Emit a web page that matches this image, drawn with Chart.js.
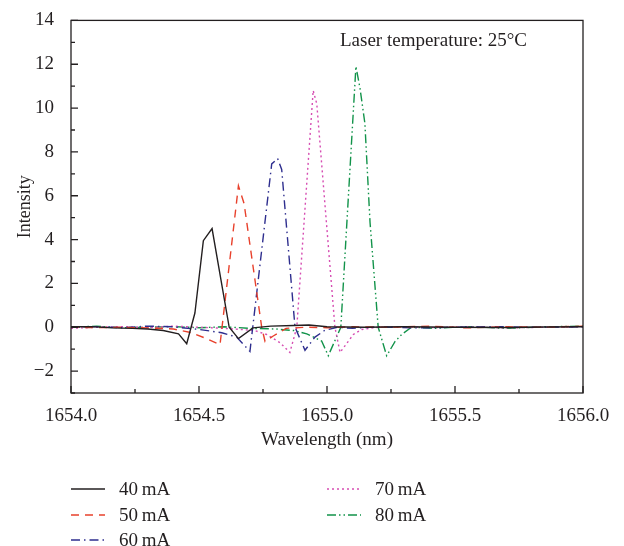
<!DOCTYPE html>
<html>
<head>
<meta charset="utf-8">
<script src="https://cdn.jsdelivr.net/npm/chart.js@4"></script>
<style>
  html, body { margin: 0; padding: 0; background: #fff; }
  #chart { display: block; }
</style>
</head>
<body>
<canvas id="chart" width="624" height="546"></canvas>
<script>
// series: wavelength (nm) and intensity for each drive current
const labels = ['40\u2009mA', '50\u2009mA', '60\u2009mA', '70\u2009mA', '80\u2009mA'];

const wl40 = [1654.00, 1654.08, 1654.16, 1654.24, 1654.30, 1654.36, 1654.42, 1654.452, 1654.484, 1654.517, 1654.551, 1654.618, 1654.654, 1654.711, 1654.78, 1654.87, 1654.93, 1655.00, 1655.15, 1655.30, 1655.50, 1655.70, 1655.85, 1656.00];
const i40 = [0.02, 0.03, -0.03, -0.05, -0.08, -0.15, -0.3, -0.75, 0.65, 3.95, 4.5, 0.0, -0.52, -0.03, 0.05, 0.08, 0.1, 0.02, 0.0, 0.02, 0.0, -0.01, 0.01, 0.02];

const wl50 = [1654.00, 1654.10, 1654.20, 1654.30, 1654.40, 1654.471, 1654.536, 1654.582, 1654.654, 1654.676, 1654.745, 1654.758, 1654.79, 1654.84, 1654.92, 1655.00, 1655.10, 1655.25, 1655.40, 1655.55, 1655.70, 1655.85, 1656.00];
const i50 = [0.0, -0.02, 0.0, -0.03, -0.08, -0.25, -0.55, -0.8, 6.45, 5.65, 0.0, -0.65, -0.4, -0.05, 0.0, -0.02, 0.02, 0.0, 0.05, -0.03, 0.02, 0.0, 0.05];

const wl60 = [1654.00, 1654.10, 1654.20, 1654.30, 1654.40, 1654.50, 1654.589, 1654.647, 1654.699, 1654.784, 1654.807, 1654.823, 1654.875, 1654.914, 1654.953, 1654.99, 1655.04, 1655.10, 1655.20, 1655.35, 1655.50, 1655.65, 1655.80, 1656.00];
const i60 = [0.0, 0.03, -0.02, 0.05, 0.02, -0.1, -0.25, -0.45, -1.1, 7.45, 7.7, 7.2, 0.0, -1.05, -0.45, -0.15, 0.0, -0.05, 0.02, -0.03, 0.0, 0.03, 0.0, 0.02];

const wl70 = [1654.00, 1654.10, 1654.20, 1654.30, 1654.40, 1654.50, 1654.60, 1654.717, 1654.764, 1654.816, 1654.855, 1654.882, 1654.946, 1654.96, 1655.031, 1655.051, 1655.103, 1655.136, 1655.20, 1655.30, 1655.40, 1655.55, 1655.70, 1655.85, 1656.00];
const i70 = [-0.05, 0.0, 0.03, -0.02, 0.05, 0.0, -0.05, -0.15, -0.33, -0.7, -1.15, 0.0, 10.8, 10.2, 0.0, -1.15, -0.33, -0.1, 0.0, 0.03, -0.02, 0.02, -0.03, 0.0, 0.02];

const wl80 = [1654.00, 1654.10, 1654.20, 1654.30, 1654.40, 1654.50, 1654.60, 1654.70, 1654.80, 1654.87, 1654.921, 1654.979, 1655.005, 1655.054, 1655.113, 1655.129, 1655.148, 1655.168, 1655.20, 1655.233, 1655.266, 1655.292, 1655.33, 1655.42, 1655.55, 1655.70, 1655.85, 1656.00];
const i80 = [0.0, 0.05, -0.02, 0.0, 0.03, -0.02, 0.02, -0.05, -0.08, -0.15, -0.3, -0.63, -1.3, 0.0, 11.9, 10.9, 9.3, 4.8, 0.0, -1.3, -0.65, -0.33, 0.0, -0.05, 0.03, -0.05, 0.02, 0.05];

const note = 'Laser temperature: 25\u00b0C';

const serif = '"Liberation Serif", "DejaVu Serif", serif';
const ink = '#231f20';

function pts(xs, ys) { return xs.map((x, i) => ({ x, y: ys[i] })); }

const styles = [
  { color: '#231f20', dash: [] },
  { color: '#e8412c', dash: [8, 6] },
  { color: '#2e2e8e', dash: [9, 4, 1.5, 4] },
  { color: '#d64db2', dash: [2, 3] },
  { color: '#12934a', dash: [9, 3, 1.5, 3, 1.5, 3] },
];
const series = [[wl40, i40], [wl50, i50], [wl60, i60], [wl70, i70], [wl80, i80]];

const datasets = series.map((s, k) => ({
  label: labels[k],
  data: pts(s[0], s[1]),
  borderColor: styles[k].color,
  borderDash: styles[k].dash,
  borderWidth: 1.4,
  pointRadius: 0,
  tension: 0,
  fill: false,
}));

// box, inward ticks, legend and note
const decor = {
  id: 'decor',
  afterDatasetsDraw(chart) {
    const { ctx, chartArea: a, scales: { x, y } } = chart;
    ctx.save();
    ctx.strokeStyle = ink;
    ctx.lineWidth = 1.3;
    ctx.strokeRect(a.left, a.top, a.right - a.left, a.bottom - a.top);
    ctx.beginPath();
    x.ticks.forEach(t => {
      const px = x.getPixelForValue(t.value);
      const len = Math.abs(t.value * 2 - Math.round(t.value * 2)) < 1e-6 ? 7 : 4;
      ctx.moveTo(px, a.bottom); ctx.lineTo(px, a.bottom - len);
    });
    y.ticks.forEach(t => {
      const py = y.getPixelForValue(t.value);
      const len = t.value % 2 === 0 ? 7 : 4;
      ctx.moveTo(a.left, py); ctx.lineTo(a.left + len, py);
    });
    ctx.stroke();

    ctx.fillStyle = ink;
    ctx.font = '19px ' + serif;
    ctx.textBaseline = 'middle';
    ctx.fillText(note, 340, 41);

    // legend: two columns
    const slots = [[71, 489], [71, 515], [71, 540], [327, 489], [327, 515]];
    chart.data.datasets.forEach((ds, k) => {
      const [lx, ly] = slots[k];
      ctx.beginPath();
      ctx.strokeStyle = ds.borderColor;
      ctx.lineWidth = 1.4;
      ctx.setLineDash(ds.borderDash);
      ctx.moveTo(lx, ly); ctx.lineTo(lx + 34, ly);
      ctx.stroke();
      ctx.setLineDash([]);
      ctx.fillStyle = ink;
      ctx.fillText(ds.label, lx + 48, ly + 1);
    });
    ctx.restore();
  }
};

new Chart(document.getElementById('chart'), {
  type: 'line',
  data: { datasets },
  plugins: [decor],
  options: {
    responsive: false,
    animation: false,
    layout: { autoPadding: false, padding: { top: 15, right: 41, left: 0, bottom: 93 } },
    plugins: { legend: { display: false }, tooltip: { enabled: false } },
    scales: {
      x: {
        type: 'linear',
        min: 1654, max: 1656,
        grid: { display: false },
        border: { display: false },
        afterFit(s) { s.height = 60; },
        ticks: {
          stepSize: 0.25,
          padding: 4,
          color: ink,
          maxRotation: 0,
          autoSkip: false,
          font: { family: serif, size: 19 },
          callback: v => (Math.abs(v * 2 - Math.round(v * 2)) < 1e-6 ? v.toFixed(1) : ''),
        },
        title: {
          display: true, text: 'Wavelength (nm)', color: ink,
          font: { family: serif, size: 19 }, padding: { top: 2, bottom: 2 },
        },
      },
      y: {
        min: -3, max: 14,
        grid: { display: false },
        border: { display: false },
        afterFit(s) { s.width = 71; },
        ticks: {
          stepSize: 1,
          padding: 9,
          color: ink,
          autoSkip: false,
          font: { family: serif, size: 19 },
          callback: v => (v % 2 === 0 ? (v < 0 ? '\u2212' + Math.abs(v) : String(v)) : ''),
        },
        title: {
          display: true, text: 'Intensity', color: ink,
          font: { family: serif, size: 18 }, padding: { top: 14, bottom: 0 },
        },
      },
    },
  },
});
</script>
</body>
</html>
